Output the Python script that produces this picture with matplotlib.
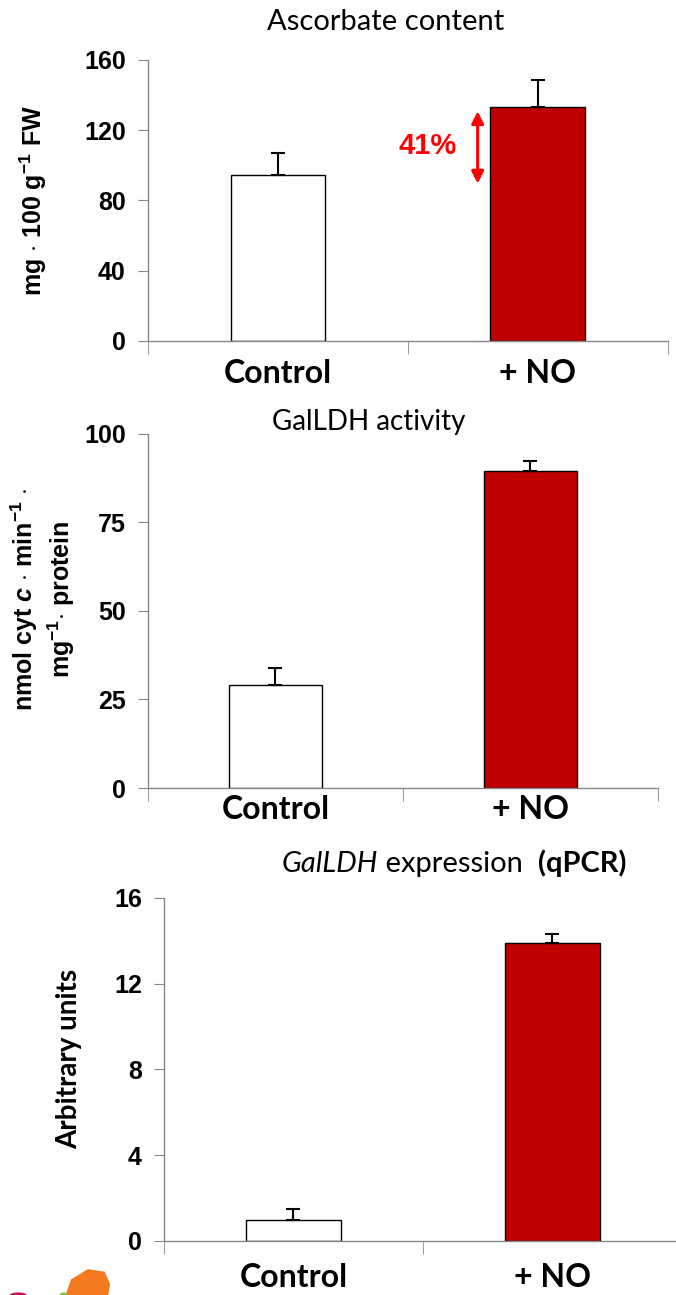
import matplotlib
matplotlib.use("Agg")
import matplotlib.pyplot as plt
from matplotlib.patches import Ellipse, Polygon

# data
groups = ["Control", "+ NO"]
asc_mean = [94.6, 133.4]
asc_err = [12.3, 15.2]
gal_act_mean = [29.0, 89.5]
gal_act_err = [5.0, 3.0]
gal_expr_mean = [1.0, 13.9]
gal_expr_err = [0.5, 0.4]
bar_colors = ["white", "#C00000"]

num_font = "Liberation Sans"
label_font = "Lato"

plt.rcParams["mathtext.fontset"] = "custom"
plt.rcParams["mathtext.rm"] = "Liberation Sans:bold"
plt.rcParams["mathtext.it"] = "Liberation Sans:italic:bold"
plt.rcParams["mathtext.bf"] = "Liberation Sans:bold"

fig = plt.figure(figsize=(6.76, 12.95), dpi=100)


def panel(rect, means, errs, ymax, yticks, xpad):
    ax = fig.add_axes(rect)
    x = list(range(len(groups)))
    ax.bar(x, means, width=0.365, color=bar_colors, edgecolor="black", linewidth=1.0, zorder=2)
    ax.errorbar(x, means, yerr=[[0] * len(errs), errs], fmt="none", ecolor="black",
                elinewidth=1.5, capsize=5, capthick=1.5, zorder=3)
    ax.set_xlim(-0.5, 1.5)
    ax.set_ylim(0, ymax)
    ax.set_yticks(yticks)
    for s in ["top", "right"]:
        ax.spines[s].set_visible(False)
    for s in ["left", "bottom"]:
        ax.spines[s].set_color("#888888")
        ax.spines[s].set_linewidth(1.0)
    ax.tick_params(axis="y", direction="out", length=7, color="#888888", pad=9)
    for t in ax.get_yticklabels():
        t.set_fontfamily(num_font)
        t.set_fontweight("bold")
        t.set_fontsize(18)
    ax.set_xticks(x)
    ax.set_xticklabels(groups, fontfamily=label_font, fontweight="bold", fontsize=23)
    ax.tick_params(axis="x", length=0, pad=xpad)
    ax.set_xticks([-0.5, 0.5, 1.5], minor=True)
    ax.tick_params(axis="x", which="minor", direction="out", length=9, color="#888888")
    return ax


# panel 1: ascorbate
ax1 = panel([0.219, 0.7367, 0.769, 0.217], asc_mean, asc_err, 160, [0, 40, 80, 120, 160], 13)
ax1.text(0.415, 181.5, "Ascorbate content", fontfamily=label_font, fontsize=21,
         ha="center", va="center")
ax1.set_ylabel(r"mg $\cdot$ 100 g$^{-1}$ FW", fontfamily="Liberation Sans",
               fontweight="bold", fontsize=18)
ax1.yaxis.set_label_coords(-0.19, 0.5)
ax1.annotate("", xy=(0.768, asc_mean[1] - 1.0), xytext=(0.768, 88),
             arrowprops=dict(arrowstyle="<|-|>", color="red", lw=2.2, mutation_scale=18))
ax1.text(0.577, 111, "41%", color="red", fontfamily=num_font, fontweight="bold",
         fontsize=21, ha="center", va="center")

# panel 2: GalLDH activity
ax2 = panel([0.219, 0.3915, 0.754, 0.2734], gal_act_mean, gal_act_err, 100, [0, 25, 50, 75, 100], 5)
ax2.text(0.367, 103.4, "GalLDH activity", fontfamily=label_font, fontsize=20,
         ha="center", va="center")
ax2.set_ylabel("nmol cyt $\\mathit{c}$ $\\cdot$ min$^{-1}$ $\\cdot$\nmg$^{-1}$$\\cdot$ protein",
               fontfamily="Liberation Sans", fontweight="bold", fontsize=18,
               linespacing=1.2)
ax2.yaxis.set_label_coords(-0.14, 0.534)

# panel 3: GalLDH expression
ax3 = panel([0.2426, 0.0417, 0.766, 0.2649], gal_expr_mean, gal_expr_err, 16, [0, 4, 8, 12, 16], 16)
t1 = ax3.text(-0.044, 17.0, "GalLDH", fontfamily=label_font, fontstyle="italic",
              fontsize=21, ha="left", va="bottom")
t2 = ax3.annotate(" expression  ", xy=(1, 0), xycoords=t1, fontfamily=label_font,
                  fontsize=21, ha="left", va="bottom")
t3 = ax3.annotate("(qPCR)", xy=(1, 0), xycoords=t2, fontfamily=label_font,
                  fontweight="bold", fontsize=21, ha="left", va="bottom")
ax3.set_ylabel("Arbitrary units", fontfamily=label_font, fontweight="bold", fontsize=20)
ax3.yaxis.set_label_coords(-0.158, 0.53)

# cropped logo in the bottom-left corner
fig.add_artist(Polygon([(0.097, 0.0), (0.105, 0.012), (0.13, 0.02), (0.155, 0.018),
                        (0.163, 0.008), (0.16, 0.0)], closed=True,
                       transform=fig.transFigure, color="#F47A20", lw=0))
fig.add_artist(Ellipse((0.094, 0.0), 0.012, 0.004, transform=fig.transFigure, color="#8CC63F", lw=0))
fig.add_artist(Ellipse((0.027, 0.0), 0.025, 0.004, transform=fig.transFigure, color="#C2185B", lw=0))

fig.savefig("out.png", dpi=100)
